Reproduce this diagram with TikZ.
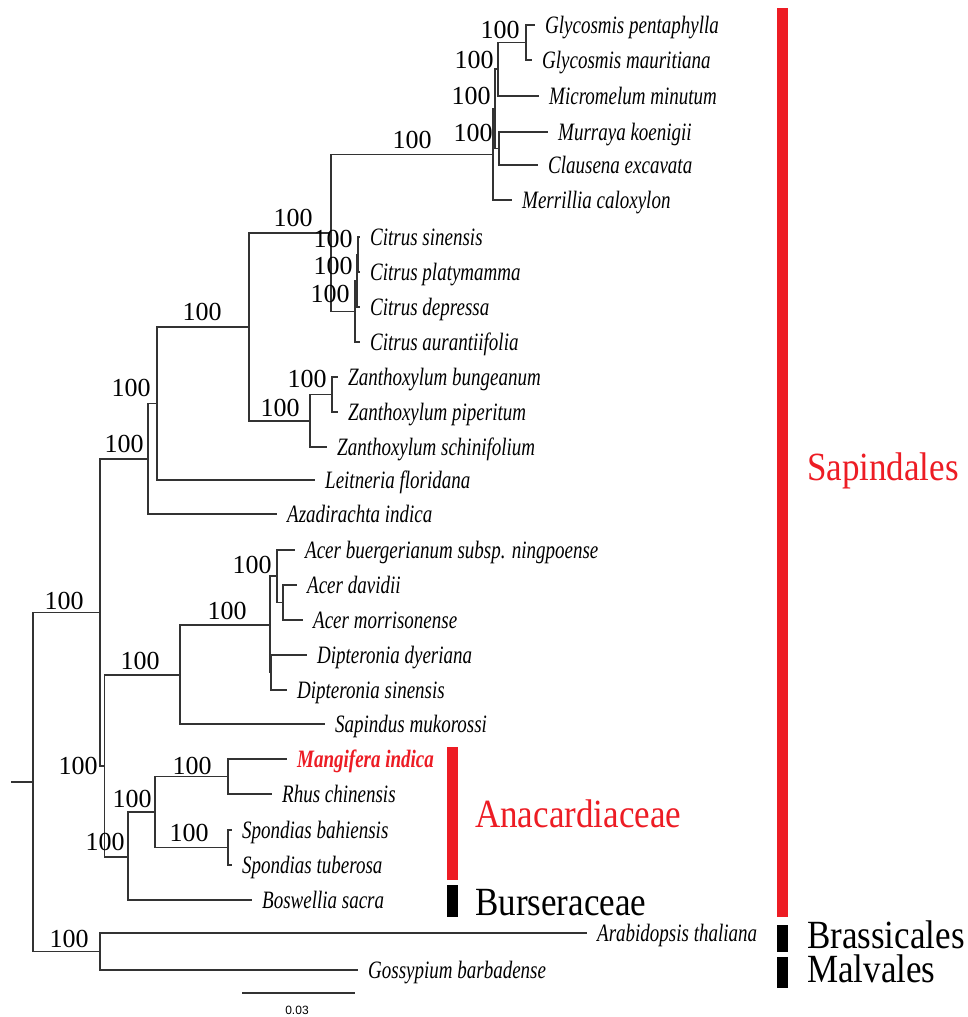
\documentclass[tikz,border=0pt]{standalone}
\usepackage{fontspec}
\setmainfont{Liberation Serif}
\newfontfamily\taxonfont{Liberation Serif}[FakeStretch=0.76]
\newfontfamily\cladefont{Liberation Serif}[FakeStretch=0.875]
\newfontfamily\barfont{Liberation Sans}
\definecolor{cladered}{RGB}{237,28,36}

\tikzset{
  taxon/.style={anchor=west,inner xsep=10pt,inner ysep=0pt,text height=22pt,text depth=5pt,
    font=\taxonfont\fontsize{25}{25}\selectfont\itshape},
  boot/.style={anchor=base,inner sep=0pt,font=\fontsize{26}{26}\selectfont},
  clade/.style={anchor=base west,inner sep=0pt,font=\cladefont\fontsize{40}{40}\selectfont},
  branch/.style={line width=1.4pt,black!80},
  cladebar/.style={line width=11pt}
}

\begin{document}
\begin{tikzpicture}[x=1pt,y=-1pt]
  \fill[white] (0,0) rectangle (967,1017);
  \useasboundingbox (0,0) rectangle (967,1017);

  % leaves
  \foreach \n/\x/\y/\t in {gpen/535/25/Glycosmis pentaphylla, gmau/532/60/Glycosmis mauritiana,
      mmin/539/96/Micromelum minutum, mkoe/548/132/Murraya koenigii, cexc/538/165/Clausena excavata,
      mcal/512/200/Merrillia caloxylon, csin/360/237/Citrus sinensis, cpla/360/272/Citrus platymamma,
      cdep/360/307/Citrus depressa, caur/360/342/Citrus aurantiifolia,
      zbun/338/377/Zanthoxylum bungeanum, zpip/338/412/Zanthoxylum piperitum,
      zsch/327/447/Zanthoxylum schinifolium, lflo/315/480/Leitneria floridana,
      aind/277/514/Azadirachta indica, abue/295/550/Acer buergerianum subsp. ningpoense,
      adav/297/585/Acer davidii, amor/303/620/Acer morrisonense, ddye/307/655/Dipteronia dyeriana,
      dsin/287/690/Dipteronia sinensis, smuk/325/724/Sapindus mukorossi,
      rchi/272/794/Rhus chinensis, sbah/232/830/Spondias bahiensis, stub/232/865/Spondias tuberosa,
      bsac/252/900/Boswellia sacra, atha/587/933/Arabidopsis thaliana, gbar/358/970/Gossypium barbadense}
    \node[taxon] (\n) at (\x,\y) {\t};
  \node[taxon,text=cladered,font=\taxonfont\fontsize{25}{25}\selectfont\bfseries\itshape] (mind) at (287,759) {Mangifera indica};

  % internal nodes
  \foreach \n/\x/\y in {gly/526/42.5, gm/498/69, mc/499/148.5, gmmc/495/109, clau/493/154.5,
      cit3/358/254.5, cit2/357/281, cit1/355/311.5, aur/331/233, zan2/332/394.5, zan1/310/421,
      rut/249/327, rutl/157/403.5, mel/148/459, sap/100/612.5, rest/104.5/766, sapi/180/675,
      acd/270/625, acer/277/576, adam/283/602.5, dip/271/672.5, anab/128/857, ana/155/812,
      mr/228/776.5, spo/228/847.5, out/100/951.5, root/33/782}
    \coordinate (\n) at (\x,\y);
  \coordinate (base) at (11,782);

  % branches
  \foreach \p/\c in {gly/gpen, gly/gmau, gm/gly, gm/mmin, mc/mkoe, mc/cexc, gmmc/gm, gmmc/mc,
      clau/gmmc, clau/mcal, cit3/csin, cit3/cpla, cit2/cit3, cit2/cdep, cit1/cit2, cit1/caur,
      aur/clau, aur/cit1, zan2/zbun, zan2/zpip, zan1/zan2, zan1/zsch, rut/aur, rut/zan1,
      rutl/rut, rutl/lflo, mel/rutl, mel/aind, sap/mel, sap/rest, rest/sapi, rest/anab,
      sapi/acd, sapi/smuk, acd/acer, acd/dip, acer/abue, acer/adam, adam/adav, adam/amor,
      dip/ddye, dip/dsin, anab/ana, anab/bsac, ana/mr, ana/spo, mr/mind, mr/rchi,
      spo/sbah, spo/stub, out/atha, out/gbar, root/sap, root/out}
    \draw[branch] (\p) |- (\c);
  \draw[branch] (base) -- (root);

  % bootstrap values
  \foreach \n/\x/\y in {gly/500/38, gm/474/68, gmmc/471/104, mc/473/141, clau/412/148,
      aur/293/226, cit3/333/247, cit2/333/274, cit1/330/302, rut/202/320, zan2/307/387,
      zan1/280/416, rutl/131/396, mel/124/452, sap/64/609, acer/252/573, acd/227/619,
      sapi/140/669, rest/78/774, mr/192/774, ana/132/807, spo/189/841, anab/105/850, out/69/947}
    \node[boot] (b\n) at (\x,\y) {100};

  % clade bars
  \draw[cladebar,cladered] (782.5,8) -- (782.5,917);
  \draw[cladebar,cladered] (452,747) -- (452,880);
  \draw[cladebar] (452,885) -- (452,917);
  \draw[cladebar] (782.5,925) -- (782.5,952);
  \draw[cladebar] (782.5,957) -- (782.5,988);
  \node[clade,text=cladered] (sapl) at (807,480) {Sapindales};
  \node[clade,text=cladered] (anal) at (475,827) {Anacardiaceae};
  \node[clade] (burl) at (475,915) {Burseraceae};
  \node[clade] (bral) at (807,948) {Brassicales};
  \node[clade] (mall) at (807,982) {Malvales};

  % scale bar
  \coordinate (sbl) at (242,993);
  \coordinate (sbr) at (355,993);
  \draw[branch] (sbl) -- (sbr);
  \node[font=\barfont\fontsize{12}{12}\selectfont,inner sep=0pt] (sbt) at (297,1010) {0.03};
\end{tikzpicture}
\end{document}
